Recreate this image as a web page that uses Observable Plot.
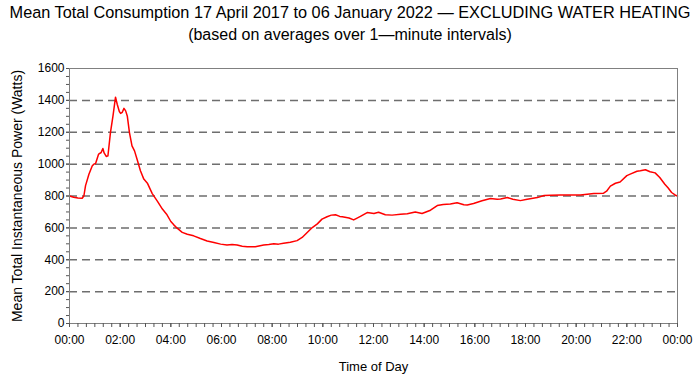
<!DOCTYPE html>
<html><head><meta charset="utf-8">
<script src="https://cdn.jsdelivr.net/npm/d3@7"></script>
<script src="https://cdn.jsdelivr.net/npm/@observablehq/plot@0.6"></script>
<style>
body{margin:0;background:#fff;font-family:"Liberation Sans",Arial,sans-serif;}
#wrap{width:700px;height:379px;overflow:hidden;background:#fff;}
.t1{font-size:16.3px;text-align:center;height:24px;line-height:24px;white-space:nowrap;}
.t2{font-size:16px;text-align:center;height:24px;line-height:22px;white-space:nowrap;}
#chart svg{display:block;}
</style></head><body>
<div id="wrap">
<div class="t1">Mean Total Consumption 17 April 2017 to 06 January 2022 — EXCLUDING WATER HEATING</div>
<div class="t2">(based on averages over 1—minute intervals)</div>
<div id="chart"></div>
</div>
<script>
const times = ["00:00","00:10","00:20","00:30","00:34","00:38","00:46","00:54","00:58","01:02","01:09","01:15","01:19","01:22","01:27","01:31","01:37","01:43","01:49","01:53","01:58","02:01","02:05","02:09","02:13","02:17","02:22","02:28","02:34","02:40","02:48","02:56","03:05","03:16","03:28","03:40","03:50","04:00","04:07","04:15","04:27","04:39","04:54","05:10","05:26","05:42","05:58","06:13","06:25","06:37","06:49","07:01","07:20","07:40","07:52","08:04","08:15","08:27","08:43","08:59","09:11","09:23","09:35","09:47","09:58","10:10","10:20","10:30","10:40","10:46","11:02","11:13","11:20","11:29","11:45","12:01","12:12","12:28","12:44","13:04","13:20","13:39","13:47","13:55","14:15","14:31","14:45","15:02","15:18","15:34","15:42","15:57","16:17","16:37","16:53","17:01","17:17","17:30","17:48","18:04","18:28","18:44","19:00","19:23","19:45","20:10","20:42","21:05","21:12","21:21","21:33","21:44","22:00","22:08","22:24","22:32","22:44","22:55","23:07","23:18","23:30","23:38","23:46","23:55","24:00"];
const watts = [800,792,787,786,800,865,937,990,1000,1005,1063,1073,1098,1070,1048,1052,1198,1303,1420,1376,1330,1318,1325,1350,1334,1300,1198,1115,1083,1031,958,906,878,815,768,718,686,640,619,598,572,560,550,533,518,508,498,492,495,492,485,481,482,492,495,500,498,503,510,520,540,571,602,625,655,670,680,682,672,670,662,650,660,672,696,690,698,682,680,686,688,700,695,690,711,740,747,750,758,745,744,753,770,784,780,781,790,780,771,780,790,803,805,807,806,807,815,818,830,862,880,888,928,937,955,958,965,952,945,916,874,850,822,805,800];
const xTickLabels = ["00:00","02:00","04:00","06:00","08:00","10:00","12:00","14:00","16:00","18:00","20:00","22:00","00:00"];
const yTicks = [0,200,400,600,800,1000,1200,1400,1600];
const yLabel = "Mean Total Instantaneous Power (Watts)";
const xLabel = "Time of Day";

const toMin = s => { const [h, m] = s.split(":").map(Number); return h * 60 + m; };
const data = times.map((t, i) => ({minute: toMin(t), watts: watts[i]}));
const ff = "Liberation Sans, Arial, sans-serif";

const plot = Plot.plot({
  width: 700, height: 331,
  marginLeft: 69, marginRight: 23, marginTop: 20, marginBottom: 56,
  style: {fontFamily: ff, fontSize: "12px", color: "#000", background: "#fff"},
  x: {domain: [0, 1440]},
  y: {domain: [0, 1600]},
  marks: [
    Plot.ruleY(yTicks.slice(1, -1), {stroke: "#6e6e6e", strokeWidth: 1.5, strokeDasharray: "8,5"}),
    Plot.line(data, {x: "minute", y: "watts", stroke: "#ff0000", strokeWidth: 1.5}),
    Plot.frame({stroke: "#808080", strokeWidth: 1}),
    Plot.axisY({ticks: d3.range(0, 1601, 50), tickSize: 3, text: null, label: null, stroke: "#555"}),
    Plot.axisY({ticks: yTicks, tickSize: 3, tickPadding: 2, label: null, stroke: "#555", fill: "#000", fontSize: 12,
      tickFormat: d => String(d)}),
    Plot.axisX({ticks: d3.range(0, 1441, 20), tickSize: 4, text: null, label: null, stroke: "#555"}),
    Plot.axisX({ticks: d3.range(0, 1441, 120), tickSize: 4, tickPadding: 8, label: null, stroke: "#555", fill: "#000", fontSize: 12,
      tickFormat: d => xTickLabels[Math.round(d / 120)]}),
    Plot.text([yLabel], {frameAnchor: "left", textAnchor: "middle", dx: -52, rotate: -90, fontSize: 14, fill: "#000", text: d => d}),
    Plot.text([xLabel], {frameAnchor: "bottom", dy: 47, fontSize: 13, fill: "#000", text: d => d})
  ]
});
document.getElementById("chart").appendChild(plot);
</script>
</body></html>
